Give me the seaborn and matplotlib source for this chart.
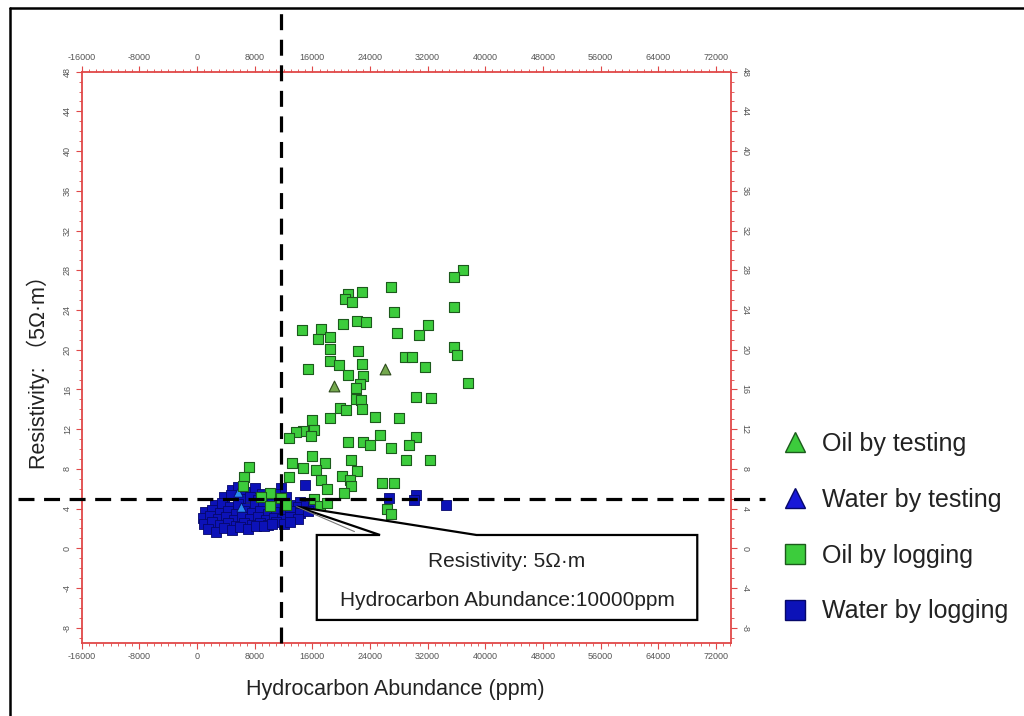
import matplotlib
matplotlib.use("Agg")
import matplotlib.pyplot as plt
import seaborn as sns
import pandas as pd
from matplotlib.lines import Line2D
from matplotlib.patches import Polygon
from matplotlib.ticker import MultipleLocator

# ---------------- data ----------------
oil_log_x = [36850, 35700, 26900, 22900, 21000, 20600, 21550, 35700, 27300, 22200,
             23400, 20300, 32050, 14600, 17200, 27700, 30750, 16800, 18500, 35700,
             36100, 18500, 22300, 28900, 29800, 18500, 19750, 22950, 31650, 15350,
             23000, 21000, 37650, 22600, 22100, 30450, 32400, 22050, 22700, 19900,
             20700, 22950, 18500, 24750, 28050, 15900, 16300, 14650, 13750, 15800,
             12700, 25400, 30450, 20950, 23000, 24000, 29350, 26950, 15900, 21350,
             29050, 32350, 13200, 14650, 17700, 16450, 22150, 12800, 20050, 17150,
             21200, 25650, 27350, 21400, 18050, 20400, 7250, 6500, 6350, 10100,
             8850, 11600, 10100, 12350, 16250, 17050, 18050, 26300, 26950]
oil_log_y = [28.0, 27.3, 26.3, 25.8, 25.6, 25.1, 24.8, 24.3, 23.8, 22.9,
             22.8, 22.6, 22.5, 22.0, 22.1, 21.7, 21.5, 21.1, 21.3, 20.3,
             19.5, 20.1, 19.9, 19.3, 19.3, 18.9, 18.5, 18.6, 18.3, 18.1,
             17.4, 17.5, 16.6, 16.5, 16.1, 15.2, 15.1, 15.0, 14.9, 14.1,
             13.9, 14.0, 13.1, 13.2, 13.1, 12.9, 11.9, 11.8, 11.7, 11.3,
             11.1, 11.4, 11.2, 10.7, 10.7, 10.4, 10.4, 10.1, 9.3, 8.9,
             8.9, 8.9, 8.6, 8.1, 8.6, 7.9, 7.8, 7.2, 7.3, 6.9,
             6.9, 6.6, 6.6, 6.3, 6.0, 5.6, 8.2, 7.2, 6.3, 5.6,
             5.2, 5.1, 4.3, 4.4, 5.0, 4.3, 4.6, 4.0, 3.5]

water_log_x = [4850, 5700, 6650, 8050, 9000, 11650, 10800,
               3750, 4700, 5950, 7350, 8450, 9550, 10950, 12350, 14300,
               2500, 3450, 4600, 5700, 6950, 8050, 9150, 10400, 11500, 12900, 14000, 15100, 16100, 17050,
               1100, 2100, 3200, 4300, 5400, 6500, 7600, 8750, 9850, 10950, 12050, 12900, 14300, 15400,
               850, 1800, 2900, 4000, 5150, 6250, 7350, 8450, 9550, 10700, 11800, 12900, 14000,
               950, 2100, 3200, 4300, 5400, 6500, 7600, 8750, 9850, 10950, 12050, 12900,
               1500, 2650, 3750, 4850, 5950, 7050, 8200, 9300, 10400,
               14980, 26650, 30450, 30100, 34550]
water_log_y = [5.9, 6.2, 5.7, 6.1, 5.5, 6.1, 5.5,
               5.2, 5.4, 5.0, 5.2, 4.9, 5.1, 4.9, 5.2, 4.7,
               4.4, 4.6, 4.2, 4.5, 4.1, 4.4, 4.2, 4.5, 4.1, 4.4, 4.2, 4.3, 4.2, 4.3,
               3.7, 3.9, 3.6, 3.8, 3.5, 3.8, 3.6, 3.8, 3.5, 3.7, 3.6, 3.8, 3.6, 3.8,
               3.1, 3.3, 3.0, 3.2, 2.9, 3.2, 3.0, 3.2, 2.9, 3.1, 3.0, 3.2, 3.0,
               2.5, 2.7, 2.4, 2.6, 2.3, 2.6, 2.4, 2.6, 2.4, 2.7, 2.5, 2.7,
               1.9, 1.6, 2.0, 1.8, 2.1, 1.9, 2.2, 2.3, 2.5,
               6.4, 5.1, 5.4, 4.9, 4.4]

oil_test_x = [19050, 26100]
oil_test_y = [16.3, 18.1]
water_test_x = [6050, 5750]
water_test_y = [4.2, 5.7]

hc_threshold = 11700
res_threshold = 5

legend_labels = ["Oil by testing", "Water by testing", "Oil by logging", "Water by logging"]
x_ticks = list(range(-16000, 72001, 8000))
y_ticks = list(range(-8, 49, 4))

# ---------------- styling ----------------
sns.set_theme(style="white")
plt.rcParams["font.family"] = ["Liberation Sans", "Noto Sans CJK SC", "DejaVu Sans"]
plt.rcParams["axes.unicode_minus"] = False

GREEN = "#3ccc3c"
GREEN_EDGE = "#1c5a1c"
BLUE = "#0c12b8"
BLUE_EDGE = "#06086a"
TRI_GREEN = "#74a84e"
RED = "#e04848"

fig = plt.figure(figsize=(10.24, 7.16), dpi=100)
ax = fig.add_axes([0.0798, 0.1024, 0.6341, 0.7975])

wl = pd.DataFrame({"x": water_log_x, "y": water_log_y})
ol = pd.DataFrame({"x": oil_log_x, "y": oil_log_y})
wt = pd.DataFrame({"x": water_test_x, "y": water_test_y})
ot = pd.DataFrame({"x": oil_test_x, "y": oil_test_y})

sns.scatterplot(data=wl, x="x", y="y", marker="s", s=46, color=BLUE,
                edgecolor=BLUE_EDGE, linewidth=0.6, ax=ax, zorder=3, legend=False)
sns.scatterplot(data=wt, x="x", y="y", marker="^", s=45, color="#2a8cf0",
                edgecolor=BLUE_EDGE, linewidth=0.6, ax=ax, zorder=3, legend=False)
sns.scatterplot(data=ol, x="x", y="y", marker="s", s=44, color=GREEN,
                edgecolor=GREEN_EDGE, linewidth=0.8, ax=ax, zorder=4, legend=False)
sns.scatterplot(data=ot, x="x", y="y", marker="^", s=60, color=TRI_GREEN,
                edgecolor="#2d4a1c", linewidth=0.8, ax=ax, zorder=5, legend=False)

ax.set_xlim(-16000, 74100)
ax.set_ylim(-9.5, 48)

# threshold dashed lines, extending beyond the frame
ax.plot([hc_threshold, hc_threshold], [-9.5, 54.0], color="black", lw=2.3,
        dashes=(5, 3), clip_on=False, zorder=6)
ax.plot([-24800, 78800], [res_threshold, res_threshold], color="black", lw=2.3,
        dashes=(5, 3), clip_on=False, zorder=6)

# ticks
ax.xaxis.set_major_locator(MultipleLocator(8000))
ax.xaxis.set_minor_locator(MultipleLocator(1000))
ax.yaxis.set_major_locator(MultipleLocator(4))
ax.yaxis.set_minor_locator(MultipleLocator(1))
ax.set_xticks(x_ticks)
ax.set_yticks(y_ticks)
ax.tick_params(which="both", direction="out", color=RED, labelcolor="#555555",
               top=True, right=True, labeltop=True, labelright=True,
               bottom=True, left=True, labelsize=6.5)
ax.tick_params(which="major", length=4, width=0.8, pad=3)
ax.tick_params(which="minor", length=2, width=0.6)
for t in ax.yaxis.get_major_ticks():
    t.label1.set_rotation(90)
    t.label2.set_rotation(-90)
    t.label1.set_va("center")
    t.label2.set_va("center")
for sp in ax.spines.values():
    sp.set_color(RED)
    sp.set_linewidth(1.3)
ax.set_xlabel("")
ax.set_ylabel("")

# axis titles
fig.text(395 / 1024, 1 - 690 / 716, "Hydrocarbon Abundance (ppm)", ha="center",
         va="center", fontsize=15.5, color="#222222")
fig.text(38 / 1024, 1 - 367 / 716, "Resistivity: （5Ω·m）", ha="center",
         va="center", rotation=90, fontsize=15.5, color="#222222")

# callout box
fig.canvas.draw()
apex = ax.transAxes.inverted().transform(ax.transData.transform((13830, 4.2)))
x0, x1, yb, yt = 0.362, 0.948, 0.0398, 0.1886
xa, xb = 0.4594, 0.608
poly = Polygon([(x0, yt), (xa, yt), tuple(apex), (xb, yt), (x1, yt), (x1, yb), (x0, yb)],
               closed=True, transform=ax.transAxes, facecolor="white",
               edgecolor="black", lw=1.6, zorder=7, clip_on=False)
ax.add_patch(poly)
ax.plot([apex[0], 0.42], [apex[1], yt + 0.006], transform=ax.transAxes,
        color="#777777", lw=0.8, zorder=7)
ax.text(0.655, 0.1413, "Resistivity: 5Ω·m", transform=ax.transAxes, ha="center",
        va="center", fontsize=15, color="#222222", zorder=8)
ax.text(0.655, 0.073, "Hydrocarbon Abundance:10000ppm", transform=ax.transAxes,
        ha="center", va="center", fontsize=15, color="#222222", zorder=8)

# legend
handles = [
    Line2D([], [], ls="none", marker="^", markersize=15, markerfacecolor=GREEN,
           markeredgecolor=GREEN_EDGE, markeredgewidth=1.0),
    Line2D([], [], ls="none", marker="^", markersize=15, markerfacecolor="#1818d8",
           markeredgecolor=BLUE_EDGE, markeredgewidth=1.0),
    Line2D([], [], ls="none", marker="s", markersize=14, markerfacecolor=GREEN,
           markeredgecolor=GREEN_EDGE, markeredgewidth=1.0),
    Line2D([], [], ls="none", marker="s", markersize=14, markerfacecolor=BLUE,
           markeredgecolor=BLUE_EDGE, markeredgewidth=1.0),
]
fig.legend(handles, legend_labels, loc="upper left",
           bbox_to_anchor=(776 / 1024, 1 - 432 / 716), frameon=False,
           fontsize=18, handlelength=1.5, handletextpad=0.35, labelspacing=1.27,
           borderpad=0, borderaxespad=0, labelcolor="#222222")

# outer border (left and top)
fig.add_artist(Line2D([10 / 1024, 10 / 1024], [0, 1 - 8 / 716], color="black",
                      lw=1.8, transform=fig.transFigure))
fig.add_artist(Line2D([10 / 1024, 1], [1 - 8 / 716, 1 - 8 / 716], color="black",
                      lw=1.8, transform=fig.transFigure))

fig.savefig("out.png", dpi=100)
